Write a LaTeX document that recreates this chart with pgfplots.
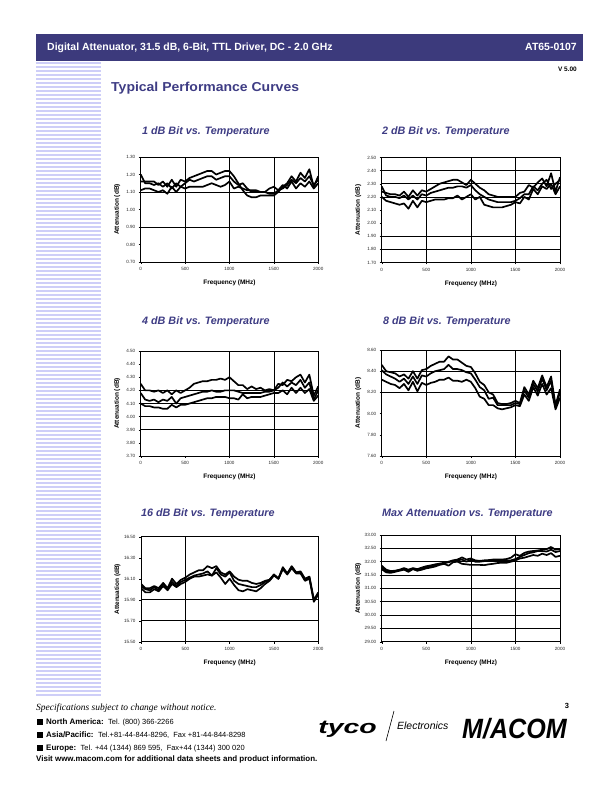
\documentclass[border=0pt]{standalone}
\usepackage{fontspec}
\setmainfont{Liberation Sans}
\newfontfamily\timesfont{Liberation Serif}
\usepackage{pgfplots}
\usepackage{pgfplotstable}
\pgfplotsset{compat=1.18}
\definecolor{hdr}{RGB}{60,58,124}
\definecolor{ttl}{RGB}{62,60,132}
\definecolor{stripe}{RGB}{206,206,248}
\newcommand\fs[1]{\fontsize{#1}{#1}\selectfont}

\pgfplotstableread[row sep=\\]{
f a b c\\
0 1.16 1.20 1.11\\ 50 1.16 1.15 1.12\\ 100 1.16 1.15 1.12\\ 150 1.16 1.14 1.11\\ 200 1.14 1.15 1.10\\
250 1.16 1.13 1.11\\ 300 1.13 1.15 1.09\\ 350 1.17 1.12 1.13\\ 400 1.13 1.15 1.10\\ 450 1.17 1.13 1.13\\
500 1.16 1.15 1.12\\ 550 1.18 1.17 1.13\\ 600 1.19 1.16 1.13\\ 650 1.20 1.17 1.13\\ 700 1.21 1.18 1.13\\
750 1.22 1.19 1.14\\ 800 1.22 1.19 1.15\\ 850 1.20 1.17 1.14\\ 900 1.21 1.18 1.13\\ 950 1.22 1.19 1.14\\
1000 1.22 1.19 1.16\\ 1050 1.19 1.16 1.12\\ 1100 1.15 1.14 1.13\\ 1150 1.11 1.15 1.12\\ 1200 1.08 1.12 1.11\\
1250 1.07 1.10 1.11\\ 1300 1.07 1.10 1.11\\ 1350 1.08 1.10 1.10\\ 1400 1.08 1.10 1.10\\ 1450 1.08 1.09 1.12\\
1500 1.08 1.09 1.13\\ 1550 1.10 1.11 1.11\\ 1600 1.13 1.12 1.14\\ 1650 1.15 1.14 1.12\\ 1700 1.19 1.17 1.16\\
1750 1.16 1.15 1.12\\ 1800 1.21 1.18 1.15\\ 1850 1.18 1.16 1.13\\ 1900 1.23 1.19 1.16\\ 1950 1.13 1.14 1.12\\
2000 1.19 1.17 1.15\\
}\tabA
\pgfplotstableread[row sep=\\]{
f a b c\\
0 2.24 2.28 2.20\\ 50 2.23 2.21 2.17\\ 100 2.22 2.20 2.16\\ 150 2.22 2.20 2.15\\ 200 2.21 2.19 2.14\\
250 2.24 2.21 2.15\\ 300 2.20 2.18 2.11\\ 350 2.25 2.21 2.17\\ 400 2.21 2.18 2.12\\ 450 2.25 2.22 2.17\\
500 2.24 2.21 2.16\\ 550 2.26 2.23 2.17\\ 600 2.28 2.24 2.18\\ 650 2.30 2.25 2.18\\ 700 2.31 2.26 2.18\\
750 2.32 2.27 2.19\\ 800 2.33 2.27 2.19\\ 850 2.33 2.28 2.21\\ 900 2.31 2.28 2.18\\ 950 2.29 2.27 2.20\\
1000 2.33 2.29 2.22\\ 1050 2.30 2.25 2.18\\ 1100 2.27 2.22 2.20\\ 1150 2.25 2.20 2.14\\ 1200 2.22 2.18 2.13\\
1250 2.21 2.17 2.12\\ 1300 2.20 2.16 2.12\\ 1350 2.20 2.16 2.12\\ 1400 2.20 2.16 2.13\\ 1450 2.20 2.16 2.14\\
1500 2.20 2.17 2.16\\ 1550 2.23 2.19 2.15\\ 1600 2.24 2.22 2.20\\ 1650 2.29 2.22 2.18\\ 1700 2.27 2.28 2.26\\
1750 2.31 2.25 2.22\\ 1800 2.34 2.30 2.28\\ 1850 2.28 2.33 2.26\\ 1900 2.38 2.26 2.30\\ 1950 2.24 2.30 2.22\\
2000 2.35 2.33 2.28\\
}\tabB
\pgfplotstableread[row sep=\\]{
f a b c\\
0 4.25 4.18 4.10\\ 50 4.20 4.13 4.08\\ 100 4.20 4.12 4.08\\ 150 4.19 4.13 4.07\\ 200 4.20 4.11 4.07\\
250 4.18 4.13 4.06\\ 300 4.20 4.12 4.06\\ 350 4.17 4.15 4.09\\ 400 4.20 4.10 4.07\\ 450 4.18 4.14 4.09\\
500 4.20 4.15 4.09\\ 550 4.22 4.16 4.10\\ 600 4.25 4.17 4.11\\ 650 4.26 4.18 4.12\\ 700 4.27 4.19 4.13\\
750 4.27 4.19 4.14\\ 800 4.28 4.20 4.14\\ 850 4.28 4.19 4.15\\ 900 4.29 4.19 4.15\\ 950 4.28 4.20 4.15\\
1000 4.30 4.20 4.14\\ 1050 4.27 4.20 4.14\\ 1100 4.24 4.19 4.13\\ 1150 4.24 4.18 4.17\\ 1200 4.21 4.18 4.14\\
1250 4.23 4.18 4.15\\ 1300 4.21 4.18 4.15\\ 1350 4.22 4.18 4.15\\ 1400 4.20 4.19 4.16\\ 1450 4.21 4.19 4.17\\
1500 4.20 4.20 4.18\\ 1550 4.25 4.22 4.18\\ 1600 4.24 4.26 4.20\\ 1650 4.28 4.23 4.17\\ 1700 4.27 4.26 4.22\\
1750 4.30 4.24 4.18\\ 1800 4.32 4.28 4.22\\ 1850 4.26 4.22 4.18\\ 1900 4.32 4.26 4.21\\ 1950 4.16 4.13 4.12\\
2000 4.23 4.20 4.16\\
}\tabC
\pgfplotstableread[row sep=\\]{
f a b c\\
0 8.46 8.41 8.32\\ 50 8.40 8.37 8.30\\ 100 8.39 8.35 8.28\\ 150 8.38 8.33 8.27\\ 200 8.35 8.30 8.24\\
250 8.37 8.33 8.28\\ 300 8.33 8.28 8.22\\ 350 8.40 8.35 8.30\\ 400 8.33 8.28 8.21\\ 450 8.41 8.36 8.29\\
500 8.42 8.35 8.27\\ 550 8.45 8.38 8.29\\ 600 8.47 8.40 8.30\\ 650 8.49 8.41 8.32\\ 700 8.49 8.42 8.32\\
750 8.54 8.46 8.34\\ 800 8.51 8.42 8.31\\ 850 8.51 8.42 8.31\\ 900 8.48 8.41 8.30\\ 950 8.45 8.39 8.32\\
1000 8.44 8.38 8.30\\ 1050 8.38 8.32 8.24\\ 1100 8.30 8.25 8.16\\ 1150 8.27 8.22 8.14\\ 1200 8.20 8.14 8.08\\
1250 8.18 8.15 8.08\\ 1300 8.10 8.08 8.05\\ 1350 8.09 8.08 8.04\\ 1400 8.09 8.08 8.05\\ 1450 8.10 8.08 8.06\\
1500 8.12 8.10 8.08\\ 1550 8.10 8.09 8.07\\ 1600 8.25 8.22 8.18\\ 1650 8.18 8.15 8.12\\ 1700 8.31 8.28 8.25\\
1750 8.24 8.21 8.17\\ 1800 8.36 8.33 8.28\\ 1850 8.25 8.22 8.18\\ 1900 8.35 8.31 8.24\\ 1950 8.08 8.06 8.04\\
2000 8.23 8.20 8.15\\
}\tabD
\pgfplotstableread[row sep=\\]{
f a b c\\
0 16.05 16.03 16.01\\ 50 16.01 16.00 15.97\\ 100 16.01 15.99 15.97\\ 150 16.03 16.02 16.00\\ 200 16.01 15.99 15.98\\
250 16.06 16.05 16.03\\ 300 16.01 16.00 15.99\\ 350 16.10 16.07 16.05\\ 400 16.05 16.03 16.02\\ 450 16.09 16.07 16.05\\
500 16.11 16.09 16.07\\ 550 16.14 16.11 16.10\\ 600 16.16 16.13 16.12\\ 650 16.18 16.14 16.12\\ 700 16.18 16.15 16.13\\
750 16.22 16.17 16.14\\ 800 16.20 16.13 16.13\\ 850 16.22 16.20 16.16\\ 900 16.16 16.14 16.11\\ 950 16.14 16.12 16.05\\
1000 16.17 16.16 16.10\\ 1050 16.12 16.08 16.04\\ 1100 16.09 16.05 15.99\\ 1150 16.08 16.04 15.98\\ 1200 16.08 16.03 16.00\\
1250 16.06 16.02 15.99\\ 1300 16.05 16.02 15.98\\ 1350 16.06 16.04 16.01\\ 1400 16.08 16.07 16.05\\ 1450 16.09 16.09 16.08\\
1500 16.14 16.14 16.13\\ 1550 16.10 16.10 16.10\\ 1600 16.21 16.20 16.19\\ 1650 16.15 16.15 16.14\\ 1700 16.22 16.21 16.20\\
1750 16.16 16.16 16.15\\ 1800 16.17 16.16 16.15\\ 1850 16.10 16.09 16.08\\ 1900 16.12 16.11 16.10\\ 1950 15.90 15.89 15.88\\
2000 15.97 15.96 15.95\\
}\tabE
\pgfplotstableread[row sep=\\]{
f a b c\\
0 31.85 31.78 31.72\\ 50 31.70 31.65 31.60\\ 100 31.65 31.62 31.58\\ 150 31.66 31.65 31.62\\ 200 31.70 31.68 31.66\\
250 31.76 31.72 31.70\\ 300 31.70 31.65 31.62\\ 350 31.76 31.74 31.72\\ 400 31.72 31.68 31.66\\ 450 31.78 31.74 31.70\\
500 31.83 31.78 31.75\\ 550 31.86 31.82 31.78\\ 600 31.90 31.86 31.82\\ 650 31.93 31.90 31.88\\ 700 31.96 31.94 31.92\\
750 32.00 31.98 31.85\\ 800 32.05 32.02 31.98\\ 850 32.08 32.05 32.00\\ 900 32.16 32.08 31.92\\ 950 32.08 32.00 31.90\\
1000 32.12 32.07 31.88\\ 1050 32.05 32.00 31.88\\ 1100 32.03 32.00 31.88\\ 1150 32.05 32.02 31.87\\ 1200 32.06 32.04 31.90\\
1250 32.08 32.03 31.92\\ 1300 32.08 32.05 31.95\\ 1350 32.08 32.05 31.96\\ 1400 32.10 32.04 31.96\\ 1450 32.15 32.05 32.00\\
1500 32.28 32.10 32.05\\ 1550 32.22 32.18 32.12\\ 1600 32.33 32.25 32.15\\ 1650 32.38 32.32 32.20\\ 1700 32.40 32.35 32.25\\
1750 32.42 32.40 32.22\\ 1800 32.45 32.40 32.30\\ 1850 32.47 32.38 32.25\\ 1900 32.55 32.45 32.32\\ 1950 32.45 32.36 32.18\\
2000 32.48 32.40 32.22\\
}\tabF

\pgfplotsset{
  chart/.style={
    scale only axis, width=177.5bp, height=105bp, anchor=north west,
    xmin=0, xmax=2000, xtick={0,500,1000,1500,2000},
    axis line style={line width=0.6pt},
    tick align=outside, major tick length=2bp, xtick pos=left, ytick pos=left,
    tick style={black, line width=0.4pt},
    /pgf/number format/assume math mode=true,
    tick label style={font=\fs{4.6}, text=black!85},
    yticklabel style={/pgf/number format/fixed, /pgf/number format/fixed zerofill, /pgf/number format/precision=2},
    xticklabel style={/pgf/number format/1000 sep={}},
    xlabel={Frequency (MHz)}, ylabel={Attenuation (dB)},
    label style={font=\bfseries\fs{6.5}},
    x label style={at={([yshift=-21bp]axis description cs:0.5,0)}, anchor=center},
    y label style={at={([xshift=-23.5bp]axis description cs:0,0.5)}, anchor=center},
    extra x tick labels={}, extra y tick labels={},
    extra tick style={grid=major, major grid style={black, line width=0.6pt}, major tick length=0pt},
    every axis plot post/.append style={black, line width=1.7pt, line join=round, mark=none},
  }
}

\begin{document}
\begin{tikzpicture}
\useasboundingbox (0,0) rectangle (612bp,-792bp);
\fill[white] (0,0) rectangle (612bp,-792bp);
\begin{scope}[x=1bp,y=-1bp]
  % header bar
  \fill[hdr] (36,34) rectangle (583,61);
  \node[anchor=base west, inner sep=0, text=white] at (47,50) {\bfseries\fs{10.5}Digital Attenuator, 31.5 dB, 6-Bit, TTL Driver, DC - 2.0 GHz};
  \node[anchor=base east, inner sep=0, text=white] at (577,50) {\bfseries\fs{10.5}AT65-0107};
  \node[anchor=base east, inner sep=0] at (577,71) {\bfseries\fs{6.5}V 5.00};
  \node[anchor=base west, inner sep=0, text=ttl, xscale=1.08] at (111,91) {\bfseries\fs{13}Typical Performance Curves};
  % stripes
  \foreach \i in {0,...,158} {
    \fill[stripe] (36,{62.3+4*\i}) rectangle (101,{64.0+4*\i});
  }
  % chart titles
  \node[anchor=base west, inner sep=0, text=ttl] at (142,134.5) {\bfseries\itshape\fs{10.8}1 dB Bit vs. Temperature};
  \node[anchor=base west, inner sep=0, text=ttl] at (382,134.5) {\bfseries\itshape\fs{10.8}2 dB Bit vs. Temperature};
  \node[anchor=base west, inner sep=0, text=ttl] at (142,324.7) {\bfseries\itshape\fs{10.8}4 dB Bit vs. Temperature};
  \node[anchor=base west, inner sep=0, text=ttl] at (383,324.3) {\bfseries\itshape\fs{10.8}8 dB Bit vs. Temperature};
  \node[anchor=base west, inner sep=0, text=ttl] at (141,516.7) {\bfseries\itshape\fs{10.8}16 dB Bit vs. Temperature};
  \node[anchor=base west, inner sep=0, text=ttl] at (382,516) {\bfseries\itshape\fs{10.8}Max Attenuation vs. Temperature};
  % footer
  \node[anchor=base west, inner sep=0] at (36,710) {\timesfont\itshape\fs{9.5}Specifications subject to change without notice.};
  \fill (37,719) rectangle (42.5,724.5);
  \fill (37,732) rectangle (42.5,737.5);
  \fill (37,745) rectangle (42.5,750.5);
  \node[anchor=base west, inner sep=0] at (46,724.5) {\fs{8}\textbf{North America:}\ \ \fs{7.5}Tel. (800) 366-2266};
  \node[anchor=base west, inner sep=0] at (46,737.5) {\fs{8}\textbf{Asia/Pacific:}\ \ \fs{7.5}Tel.+81-44-844-8296,\ \ Fax +81-44-844-8298};
  \node[anchor=base west, inner sep=0] at (46,750.5) {\fs{8}\textbf{Europe:}\ \ \fs{7.5}Tel. +44 (1344) 869 595,\ \ Fax+44 (1344) 300 020};
  \node[anchor=base west, inner sep=0] at (36,761) {\bfseries\fs{8}Visit www.macom.com for additional data sheets and product information.};
  \node[anchor=base, inner sep=0] at (567,708.5) {\bfseries\fs{7.5}3};
  % logos
  \node[anchor=base west, inner sep=0, xscale=1.5] at (318,733) {\bfseries\itshape\fs{19}tyco};
  \draw[line width=0.6pt] (386,741) -- (394,711);
  \node[anchor=base west, inner sep=0] at (397,729) {\itshape\fs{10.5}Electronics};
  \node[anchor=base west, inner sep=0, xscale=0.9] at (462,738) {\bfseries\itshape\fs{28}M/ACOM};
\end{scope}

% 1 dB
\begin{axis}[chart, at={(140.7bp,-157bp)}, ymin=0.7, ymax=1.3,
  ytick={0.7,0.8,0.9,1.0,1.1,1.2,1.3}, extra y ticks={0.9,1.1}, extra x ticks={500,1000,1500}]
  \addplot table[x=f,y=a]{\tabA};
  \addplot table[x=f,y=b]{\tabA};
  \addplot table[x=f,y=c]{\tabA};
\end{axis}
% 2 dB
\begin{axis}[chart, at={(381.7bp,-157.5bp)}, width=178.3bp, ymin=1.7, ymax=2.5,
  ytick={1.7,1.8,1.9,2.0,2.1,2.2,2.3,2.4,2.5}, extra y ticks={1.8,1.9,2.2,2.3,2.4}, extra x ticks={500,1000,1500}]
  \addplot table[x=f,y=a]{\tabB};
  \addplot table[x=f,y=b]{\tabB};
  \addplot table[x=f,y=c]{\tabB};
\end{axis}
% 4 dB
\begin{axis}[chart, at={(140.7bp,-351bp)}, ymin=3.7, ymax=4.5,
  ytick={3.7,3.8,3.9,4.0,4.1,4.2,4.3,4.4,4.5}, extra y ticks={3.9,4.0,4.1,4.2}, extra x ticks={1000,1500}]
  \addplot table[x=f,y=a]{\tabC};
  \addplot table[x=f,y=b]{\tabC};
  \addplot table[x=f,y=c]{\tabC};
\end{axis}
% 8 dB
\begin{axis}[chart, at={(381.7bp,-350bp)}, width=178.3bp, height=106bp, ymin=7.6, ymax=8.6,
  ytick={7.6,7.8,8.0,8.2,8.4,8.6}, extra y ticks={8.2,8.4}, extra x ticks={500,1500}]
  \addplot table[x=f,y=a]{\tabD};
  \addplot table[x=f,y=b]{\tabD};
  \addplot table[x=f,y=c]{\tabD};
\end{axis}
% 16 dB
\begin{axis}[chart, at={(141bp,-536.7bp)}, width=177.3bp, ymin=15.5, ymax=16.5,
  ytick={15.5,15.7,15.9,16.1,16.3,16.5}, extra y ticks={15.7,15.9}, extra x ticks={500}]
  \addplot table[x=f,y=a]{\tabE};
  \addplot table[x=f,y=b]{\tabE};
  \addplot table[x=f,y=c]{\tabE};
\end{axis}
% Max
\begin{axis}[chart, at={(381.7bp,-535bp)}, width=178.3bp, height=106.7bp, ymin=29, ymax=33,
  ytick={29,29.5,30,30.5,31,31.5,32,32.5,33}, extra y ticks={29.5,30,30.5,31,31.5,32,32.5}, extra x ticks={1000,1500}]
  \addplot table[x=f,y=a]{\tabF};
  \addplot table[x=f,y=b]{\tabF};
  \addplot table[x=f,y=c]{\tabF};
\end{axis}
\end{tikzpicture}
\end{document}
